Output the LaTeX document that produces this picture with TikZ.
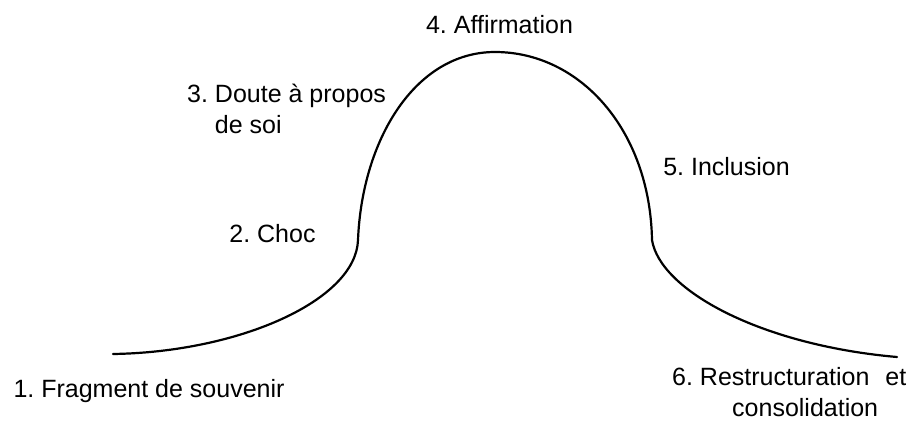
\documentclass[tikz,border=0pt]{standalone}
\usepackage{fontspec}
\setmainfont{Liberation Sans}
\begin{document}
\begin{tikzpicture}[x=1pt,y=-1pt,
  lbl/.style={font=\fontsize{25}{31}\selectfont\frenchspacing, inner sep=0pt, anchor=base},
  curve/.style={line width=2.2pt, line cap=round, line join=round}]
\useasboundingbox (0,0) rectangle (921,421);
% curve
\coordinate (start) at (113,354);
\coordinate (infl1) at (358,240);
\coordinate (peak) at (495,52);
\coordinate (infl2) at (652,240);
\coordinate (finish) at (897,357);
\draw[curve] (start) .. controls (240,352) and (356,300) .. (infl1)
  .. controls (362,140) and (415,52) .. (peak)
  .. controls (580,52) and (650,130) .. (infl2)
  .. controls (660,290) and (760,345) .. (finish);
% labels
\node[lbl] (l1) at (149,397) {1. Fragment de souvenir};
\node[lbl] (l2) at (272.5,242) {2. Choc};
\node[lbl, anchor=base west] (l3) at (187,102) {\begin{tabular}[t]{@{}l@{}l@{}}3.&\ Doute à propos\\ &\ de soi\end{tabular}};
\node[lbl] (l4) at (499.5,33) {4. Affirmation};
\node[lbl] (l5) at (726.5,175) {5. Inclusion};
\node[lbl, anchor=base west] (l6) at (672,385) {\fontsize{25}{31}\selectfont\begin{tabular}[t]{@{}l@{}}6. Restructuration\hspace{16pt}et\\\hspace*{60pt}consolidation\end{tabular}};
\end{tikzpicture}
\end{document}
